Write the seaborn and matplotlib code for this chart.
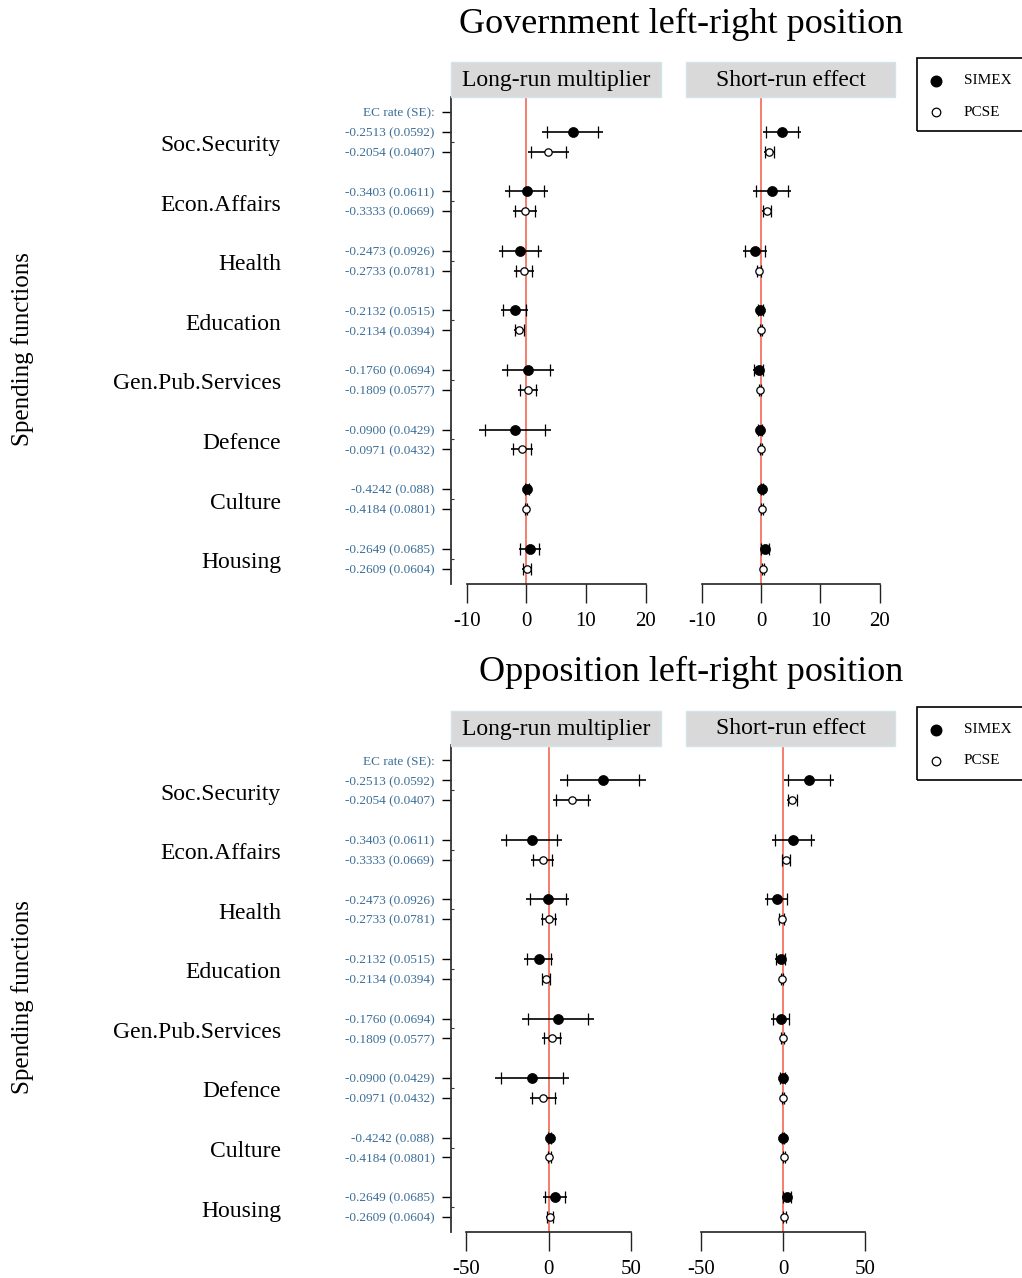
import numpy as np
import pandas as pd
import matplotlib
matplotlib.use("Agg")
import matplotlib.pyplot as plt
import matplotlib.transforms as mtransforms
from matplotlib.patches import Rectangle
from matplotlib.lines import Line2D
import seaborn as sns

sns.set_theme(style="white")
plt.rcParams["font.family"] = ["Liberation Serif", "DejaVu Serif"]
plt.rcParams["text.color"] = "black"
plt.rcParams["xtick.color"] = "black"
plt.rcParams["ytick.color"] = "black"
plt.rcParams["axes.labelcolor"] = "black"

# ---------------- data ----------------
categories = ["Soc.Security", "Econ.Affairs", "Health", "Education",
              "Gen.Pub.Services", "Defence", "Culture", "Housing"]
ec_header = "EC rate (SE):"
ec_labels = ["-0.2513 (0.0592)", "-0.2054 (0.0407)",
             "-0.3403 (0.0611)", "-0.3333 (0.0669)",
             "-0.2473 (0.0926)", "-0.2733 (0.0781)",
             "-0.2132 (0.0515)", "-0.2134 (0.0394)",
             "-0.1760 (0.0694)", "-0.1809 (0.0577)",
             "-0.0900 (0.0429)", "-0.0971 (0.0432)",
             "-0.4242 (0.088)", "-0.4184 (0.0801)",
             "-0.2649 (0.0685)", "-0.2609 (0.0604)"]
panel_titles = ["Government left-right position", "Opposition left-right position"]
strip_labels = ["Long-run multiplier", "Short-run effect"]
methods = ["SIMEX", "PCSE"]
y_label = "Spending functions"

# Government left-right position
gov_lr_simex_est = [7.8, 0.05, -1.0, -1.95, 0.35, -1.9, 0.1, 0.6]
gov_lr_simex_se = [2.61, 1.82, 1.84, 1.16, 2.22, 3.10, 0.18, 0.97]
gov_lr_pcse_est = [3.7, -0.2, -0.35, -1.2, 0.3, -0.73, 0.0, 0.1]
gov_lr_pcse_se = [1.76, 1.00, 0.84, 0.46, 0.85, 0.95, 0.12, 0.43]
gov_sr_simex_est = [3.55, 1.85, -1.0, -0.1, -0.4, -0.17, 0.17, 0.67]
gov_sr_simex_se = [1.63, 1.65, 1.03, 0.24, 0.50, 0.21, 0.12, 0.43]
gov_sr_pcse_est = [1.4, 0.95, -0.34, 0.0, -0.17, 0.0, 0.17, 0.34]
gov_sr_pcse_se = [0.44, 0.40, 0.18, 0.06, 0.12, 0.12, 0.12, 0.12]

# Opposition left-right position
opp_lr_simex_est = [32.9, -10.5, -0.7, -6.0, 5.6, -10.3, 0.6, 3.5]
opp_lr_simex_se = [13.2, 9.5, 6.6, 4.5, 11.1, 11.5, 0.6, 3.7]
opp_lr_pcse_est = [14.0, -3.8, -0.1, -1.8, 1.85, -3.4, 0.2, 0.8]
opp_lr_pcse_se = [6.0, 3.45, 2.5, 1.34, 3.07, 4.16, 0.5, 1.2]
opp_sr_simex_est = [15.5, 6.0, -4.0, -1.6, -1.5, -0.4, 0.0, 2.1]
opp_sr_simex_se = [7.8, 6.66, 3.6, 1.64, 2.98, 0.85, 0.36, 1.49]
opp_sr_pcse_est = [5.3, 1.8, -1.0, -0.6, -0.4, -0.2, 0.2, 0.6]
opp_sr_pcse_se = [1.67, 1.49, 0.91, 0.36, 0.61, 0.49, 0.30, 0.61]

series = {
    (0, 0, "SIMEX"): (gov_lr_simex_est, gov_lr_simex_se),
    (0, 0, "PCSE"): (gov_lr_pcse_est, gov_lr_pcse_se),
    (0, 1, "SIMEX"): (gov_sr_simex_est, gov_sr_simex_se),
    (0, 1, "PCSE"): (gov_sr_pcse_est, gov_sr_pcse_se),
    (1, 0, "SIMEX"): (opp_lr_simex_est, opp_lr_simex_se),
    (1, 0, "PCSE"): (opp_lr_pcse_est, opp_lr_pcse_se),
    (1, 1, "SIMEX"): (opp_sr_simex_est, opp_sr_simex_se),
    (1, 1, "PCSE"): (opp_sr_pcse_est, opp_sr_pcse_se),
}

records = []
for (half, eff, m), (est, se) in series.items():
    for i, cat in enumerate(categories):
        records.append(dict(half=half, effect=eff, method=m, category=cat,
                            est=est[i], se=se[i],
                            row=1 + 3 * i + (0 if m == "SIMEX" else 1)))
df = pd.DataFrame(records)

# ---------------- layout ----------------
W, H = 1022, 1278
fig = plt.figure(figsize=(W / 100, H / 100), dpi=100)


def frect(x0, y0, x1, y1):
    return [x0 / W, 1 - y1 / H, (x1 - x0) / W, (y1 - y0) / H]


RED = "#F25A44"
BLUE = "#3B6E98"
panel_x = [(451, 661), (686, 895)]
half_off = [0, 648.5]
xlims = [(-12.64, 22.6), (-59.4, 68.1)]
xticks = [[-10, 0, 10, 20], [-50, 0, 50]]
ec_rows = [0] + [1 + 3 * i + k for i in range(8) for k in (0, 1)]
cat_rows = [1.5 + 3 * i for i in range(8)]

for half in range(2):
    off = half_off[half]
    # title
    fig.text(903 / W, 1 - (24 + off) / H, panel_titles[half], ha="right",
             va="center", fontsize=26)
    # y label
    fig.text(23 / W, 1 - (349 + off) / H, y_label, rotation=90, ha="center",
             va="center", fontsize=18)
    # legend box
    fig.add_artist(Rectangle(((917) / W, 1 - (131 + off) / H), 140 / W, 73 / H,
                             transform=fig.transFigure, facecolor="none",
                             edgecolor="black", lw=1.2, clip_on=False))
    fig.add_artist(Line2D([936 / W], [1 - (81 + off) / H], marker="o", ms=7.6,
                          mfc="black", mec="black", ls="none",
                          transform=fig.transFigure))
    fig.add_artist(Line2D([936 / W], [1 - (112 + off) / H], marker="o", ms=6.2,
                          mfc="white", mec="black", mew=0.9, ls="none",
                          transform=fig.transFigure))
    fig.text(964 / W, 1 - (81 + off) / H, methods[0], ha="left", va="center",
             fontsize=11)
    fig.text(964 / W, 1 - (112 + off) / H, methods[1], ha="left", va="center",
             fontsize=11)

    for eff in range(2):
        x0, x1 = panel_x[eff]
        # strip
        fig.add_artist(Rectangle((x0 / W, 1 - (97 + off) / H), (x1 - x0) / W,
                                 35 / H, transform=fig.transFigure,
                                 facecolor="#D9D9D9", edgecolor="#D3E4E8",
                                 lw=1.0))
        fig.text((x0 + x1) / 2 / W, 1 - (80.5 + off) / H, strip_labels[eff],
                 ha="center", va="center", fontsize=17)

        ax = fig.add_axes(frect(x0, 97 + off, x1, 583.5 + off))
        ax.set_facecolor("none")
        ax.axvline(0, color=RED, lw=1.1, zorder=1)
        sub = df[(df.half == half) & (df.effect == eff)]
        for m in methods:
            s = sub[sub.method == m]
            lo95 = s.est - 1.96 * s.se
            hi95 = s.est + 1.96 * s.se
            ax.hlines(s.row, lo95, hi95, color="black", lw=1.2, zorder=2)
            lo90 = s.est - 1.645 * s.se
            hi90 = s.est + 1.645 * s.se
            ax.plot(np.r_[lo90.values, hi90.values], np.r_[s.row.values, s.row.values],
                    ls="none", marker="|", ms=9, mew=0.9, color="black", zorder=2)
        sns.scatterplot(data=sub[sub.method == "SIMEX"], x="est", y="row", ax=ax,
                        color="black", edgecolor="black", s=52, linewidth=0.5,
                        zorder=4, legend=False)
        sns.scatterplot(data=sub[sub.method == "PCSE"], x="est", y="row", ax=ax,
                        color="white", edgecolor="black", s=28, linewidth=0.9,
                        zorder=4, legend=False)
        ax.set_xlim(*xlims[half])
        ax.set_ylim(23.755, -0.755)
        ax.set_xlabel("")
        ax.set_ylabel("")
        for sp in ["top", "right"]:
            ax.spines[sp].set_visible(False)
        ax.spines["bottom"].set_bounds(xticks[half][0], xticks[half][-1])
        ax.spines["bottom"].set_color("#222222")
        ax.spines["bottom"].set_linewidth(1.2)
        ax.set_xticks(xticks[half])
        ax.set_xticklabels([str(t) for t in xticks[half]], fontsize=15)
        ax.tick_params(axis="x", direction="out", length=14, width=1.0,
                       color="#222222", pad=6.5, bottom=True, labelcolor="black")
        if eff == 0:
            ax.spines["left"].set_color("#333333")
            ax.spines["left"].set_linewidth(1.3)
            ax.set_yticks(ec_rows)
            ax.set_yticklabels([ec_header] + ec_labels, fontsize=9.5, color=BLUE)
            ax.tick_params(axis="y", which="major", direction="out", length=6.8,
                           width=1.0, color="black", pad=5, left=True)
            ax.set_yticks(cat_rows, minor=True)
            ax.tick_params(axis="y", which="minor", direction="in", length=2,
                           width=0.8, color="#333333", left=True)
            trans = mtransforms.blended_transform_factory(ax.transAxes, ax.transData)
            for i, cat in enumerate(categories):
                ax.text((281 - x0) / (x1 - x0), cat_rows[i] + 0.2, cat,
                        transform=trans, ha="right", va="center", fontsize=17,
                        color="black")
        else:
            ax.spines["left"].set_visible(False)
            ax.set_yticks([])

fig.savefig("out.png", dpi=100)
